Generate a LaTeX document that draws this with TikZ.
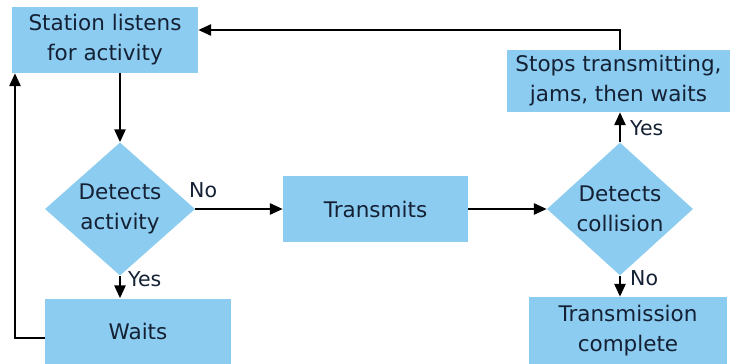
\documentclass[tikz,border=0pt]{standalone}
\usepackage{fontspec}
\setmainfont{DejaVu Sans}
\usetikzlibrary{shapes.geometric,arrows.meta}
\definecolor{boxblue}{RGB}{140,204,240}
\definecolor{txt}{RGB}{20,32,52}
\tikzset{
  flowbox/.style={rectangle, fill=boxblue, inner sep=0pt, text=txt, font=\fontsize{21.5}{30}\selectfont, align=center},
  decide/.style={diamond, fill=boxblue, inner sep=0pt, text=txt, font=\fontsize{21.5}{30}\selectfont, align=center, minimum width=150pt, minimum height=126pt},
  conn/.style={line width=2.7pt, -{Triangle[length=13pt,width=11pt]}},
  lbl/.style={text=txt, font=\fontsize{20.5}{24}\selectfont, inner sep=0pt}
}
\begin{document}
\begin{tikzpicture}[x=1pt,y=-1pt]
\useasboundingbox (0,0) rectangle (732,364);
\node[flowbox, minimum width=186pt, minimum height=66pt] (station) at (105,40) {Station listens\\for activity};
\node[decide] (act) at (120,209) {Detects\\activity};
\node[flowbox, minimum width=186pt, minimum height=65pt] (waits) at (138,331) {Waits};
\node[flowbox, minimum width=185pt, minimum height=66pt] (trans) at (375.5,209) {Transmits};
\node[decide, minimum width=146pt] (coll) at (620,209) {Detects\\collision};
\node[flowbox, minimum width=223pt, minimum height=62pt] (stops) at (618.5,81) {Stops transmitting,\\jams, then waits};
\node[flowbox, minimum width=198pt, minimum height=67pt] (done) at (628,330.5) {Transmission\\complete};
\coordinate (lc) at (15,338);
\coordinate (tc) at (620,30);
\draw[conn] (station.south -| act.north) -- (act.north);
\draw[conn] (act.south) -- (act.south |- waits.north);
\draw[conn] (act.east) -- (trans.west);
\draw[conn] (trans.east) -- (coll.west);
\draw[conn] (coll.north) -- (coll.north |- stops.south);
\draw[conn] (coll.south) -- (coll.south |- done.north);
\draw[conn] (waits.west |- lc) -- (lc) -- (lc |- station.south);
\draw[conn] (tc |- stops.north) -- (tc) -- (tc -| station.east);
\node[lbl, anchor=west] (no1) at (189,190) {No};
\node[lbl, anchor=west] (yes1) at (128,279) {Yes};
\node[lbl, anchor=west] (yes2) at (630,128) {Yes};
\node[lbl, anchor=west] (no2) at (630,278) {No};
\end{tikzpicture}
\end{document}
